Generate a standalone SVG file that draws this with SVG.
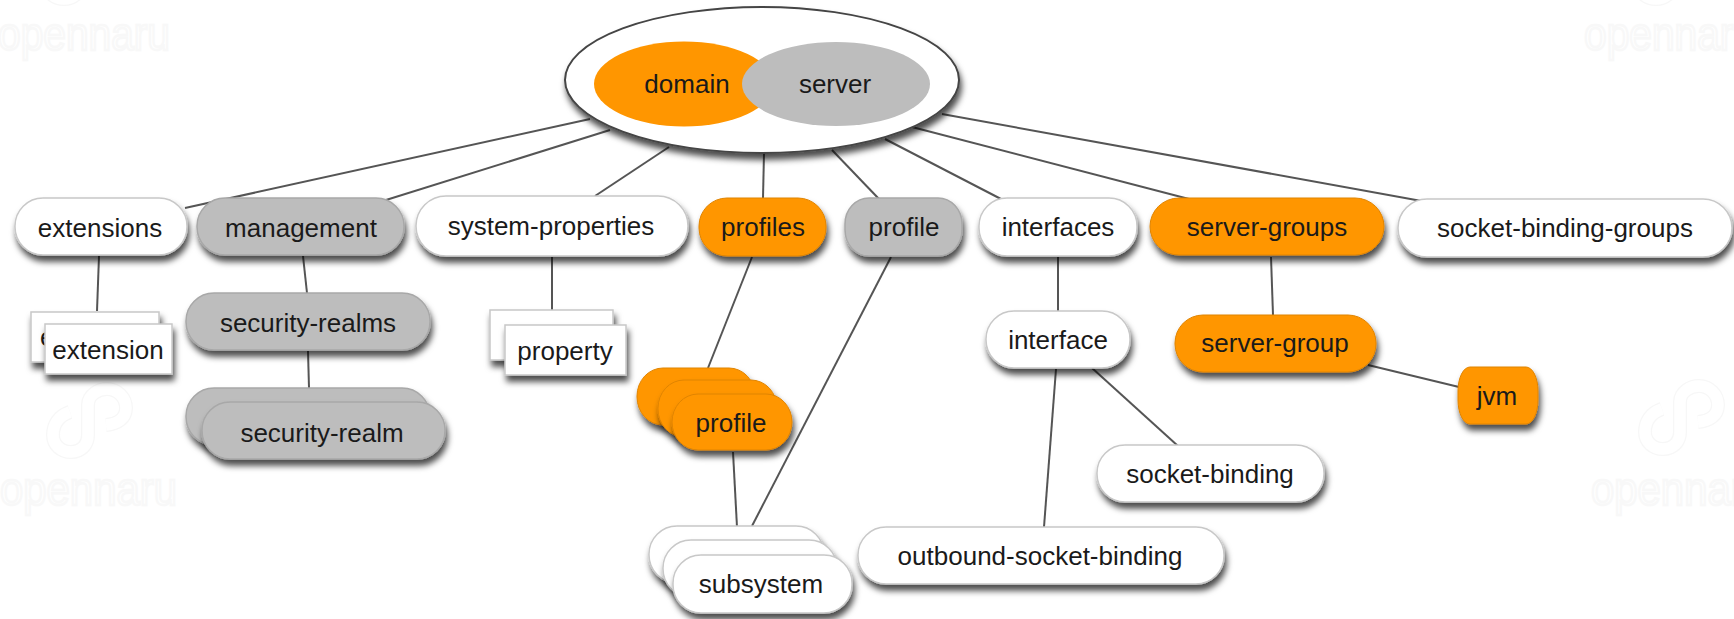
<svg xmlns="http://www.w3.org/2000/svg" xmlns:xlink="http://www.w3.org/1999/xlink" width="1734" height="619" viewBox="0 0 1734 619">
<style>
text{font-family:"Liberation Sans",Arial,sans-serif;font-size:26px;fill:#1a1a1a;text-anchor:middle}
.w{fill:#fff;stroke:#c8c8c8;stroke-width:1.5}
.g{fill:#bdbdbd;stroke:#a8a8a8;stroke-width:1.5}
.o{fill:#ff9600;stroke:#e08400;stroke-width:1}
.s{filter:url(#sh)}
#connectors line{stroke:#555;stroke-width:2}
.wm{font-size:47px;fill:#fff;stroke:#f8f8f8;stroke-width:2.500;text-anchor:start}
.lo{fill:none;stroke:#f7f7f7;stroke-width:14}
.li{fill:none;stroke:#fff;stroke-width:11.500}
</style>
<defs>
<filter id="sh" x="-20%" y="-20%" width="140%" height="170%"><feDropShadow dx="2" dy="6" stdDeviation="3" flood-color="#000" flood-opacity="0.7"/></filter>
<path id="lp" d="M70 412C58 416 53 425 53 435C53 445 61 452 71 452C81 452 88 445 88 435V405C88 395 98 389 107 389C118 389 126 398 126 408C126 418 118 424 106 425"/>
<g id="lg"><use href="#lp" class="lo"/><use href="#lp" class="li"/></g>
</defs>
<g id="watermark">
<text class="wm" x="-2" y="50" textLength="172" lengthAdjust="spacingAndGlyphs">opennaru</text>
<text class="wm" x="1584" y="50" textLength="172" lengthAdjust="spacingAndGlyphs">opennaru</text>
<text class="wm" x="0" y="505" textLength="177" lengthAdjust="spacingAndGlyphs">opennaru</text>
<text class="wm" x="1591" y="505" textLength="177" lengthAdjust="spacingAndGlyphs">opennaru</text>
<use href="#lg"/>
<use href="#lg" transform="translate(1592,-3)"/>
<use href="#lg" transform="translate(-7,-453)"/>
<use href="#lg" transform="translate(1585,-453)"/>
</g>
<g id="connectors">
<line x1="185" y1="208" x2="590" y2="119"/>
<line x1="386" y1="200" x2="610" y2="130"/>
<line x1="595" y1="196" x2="669" y2="147"/>
<line x1="763" y1="198" x2="764" y2="153"/>
<line x1="879" y1="199" x2="832" y2="150"/>
<line x1="1001" y1="199" x2="885" y2="139"/>
<line x1="1189" y1="199" x2="912" y2="127"/>
<line x1="1427" y1="202" x2="942" y2="114"/>
<line x1="99" y1="256" x2="97" y2="311"/>
<line x1="303" y1="256" x2="307" y2="293"/>
<line x1="308" y1="351" x2="309" y2="388"/>
<line x1="552" y1="257" x2="552" y2="311"/>
<line x1="752" y1="257" x2="708" y2="368"/>
<line x1="891" y1="257" x2="752" y2="526"/>
<line x1="733" y1="452" x2="737" y2="527"/>
<line x1="1058" y1="257" x2="1058" y2="311"/>
<line x1="1056" y1="369" x2="1044" y2="527"/>
<line x1="1092" y1="368" x2="1178" y2="446"/>
<line x1="1271" y1="257" x2="1273" y2="315"/>
<line x1="1368" y1="365" x2="1459" y2="387"/>
</g>
<g id="root">
<ellipse class="s" cx="762" cy="80" rx="197" ry="73" fill="#fff" stroke="#444" stroke-width="2"/>
<ellipse cx="684" cy="84" rx="90" ry="42.500" fill="#ff9600"/>
<ellipse cx="836" cy="84" rx="94" ry="42" fill="#bdbdbd"/>
<text x="687" y="93">domain</text>
<text x="835" y="93">server</text>
</g>
<g id="extensions"><rect class="w s" x="15" y="198" width="172" height="57" rx="28" ry="28"/><text x="100" y="237">extensions</text></g>
<g id="management"><rect class="g s" x="197" y="198" width="207" height="57" rx="28" ry="28"/><text x="301" y="237">management</text></g>
<g id="system-properties"><rect class="w s" x="416" y="196" width="272" height="60" rx="30" ry="30"/><text x="551" y="235">system-properties</text></g>
<g id="profiles"><rect class="o s" x="699" y="198" width="127" height="58" rx="28" ry="28"/><text x="763" y="236">profiles</text></g>
<g id="profile-gray"><rect class="g s" x="845" y="198" width="117" height="58" rx="24" ry="26"/><text x="904" y="236">profile</text></g>
<g id="interfaces"><rect class="w s" x="979" y="198" width="158" height="58" rx="28" ry="28"/><text x="1058" y="236">interfaces</text></g>
<g id="server-groups"><rect class="o s" x="1150" y="198" width="234" height="57" rx="29" ry="29"/><text x="1267" y="236">server-groups</text></g>
<g id="socket-binding-groups"><rect class="w s" x="1398" y="199" width="334" height="58" rx="29" ry="29"/><text x="1565" y="237">socket-binding-groups</text></g>
<g id="extension">
<rect class="w s" x="31" y="312" width="128" height="50"/>
<text x="40" y="346" style="text-anchor:start">extension</text>
<rect class="w s" x="45" y="324" width="127" height="50"/><text x="108" y="359">extension</text></g>
<g id="security-realms"><rect class="g s" x="186" y="293" width="244" height="57" rx="28" ry="28"/><text x="308" y="332">security-realms</text></g>
<g id="security-realm">
<rect class="g s" x="186" y="388" width="244" height="57" rx="28" ry="28"/>
<rect class="g s" x="202" y="402" width="243" height="57" rx="28" ry="28"/><text x="322" y="442">security-realm</text></g>
<g id="property">
<rect class="w s" x="490" y="310" width="123" height="50"/>
<rect class="w s" x="505" y="325" width="121" height="50"/><text x="565" y="360">property</text></g>
<g id="profile">
<rect class="o s" x="637" y="368" width="118" height="57" rx="26" ry="28"/>
<rect class="o s" x="658" y="380" width="119" height="57" rx="26" ry="28"/>
<rect class="o s" x="672" y="394" width="120" height="56" rx="26" ry="28"/><text x="731" y="432">profile</text></g>
<g id="subsystem">
<rect class="w s" x="649" y="526" width="175" height="57" rx="28" ry="28"/>
<rect class="w s" x="663" y="540" width="174" height="57" rx="28" ry="28"/>
<rect class="w s" x="673" y="555" width="179" height="58" rx="28" ry="28"/><text x="761" y="593">subsystem</text></g>
<g id="interface"><rect class="w s" x="986" y="311" width="144" height="57" rx="28" ry="28"/><text x="1058" y="349">interface</text></g>
<g id="server-group"><rect class="o s" x="1175" y="315" width="201" height="57" rx="28" ry="28"/><text x="1275" y="352">server-group</text></g>
<g id="jvm"><rect class="o s" x="1458" y="367" width="80" height="57" rx="12" ry="24"/><text x="1497" y="405">jvm</text></g>
<g id="socket-binding"><rect class="w s" x="1097" y="445" width="227" height="57" rx="28" ry="28"/><text x="1210" y="483">socket-binding</text></g>
<g id="outbound-socket-binding"><rect class="w s" x="858" y="527" width="366" height="57" rx="28" ry="28"/><text x="1040" y="565">outbound-socket-binding</text></g>
</svg>
